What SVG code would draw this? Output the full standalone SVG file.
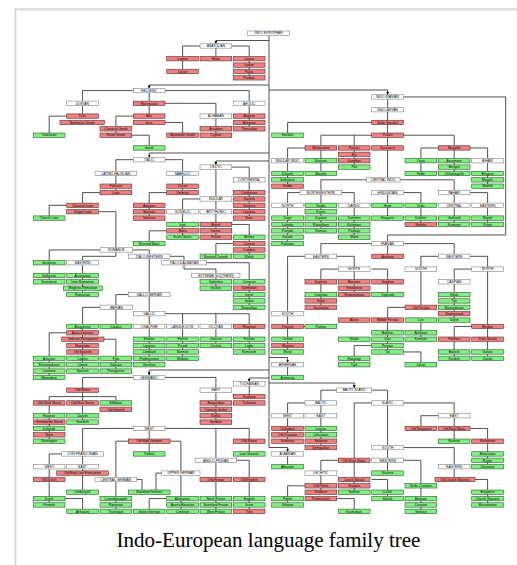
<svg xmlns="http://www.w3.org/2000/svg" width="517" height="565" viewBox="0 0 517 565">
<style>
.n rect{stroke-width:.6}
.r rect{fill:#f08080;stroke:#5a3030}
.g rect{fill:#80f080;stroke:#2e5a2e}
.w rect{fill:#fff;stroke:#808080}
.n text{font-family:"Liberation Sans",Arial,sans-serif;font-size:3.3px;text-anchor:middle;fill:#000}
#connectors path{fill:none;stroke:#333;stroke-width:.85}
#connectors path.a{marker-end:url(#ah)}
.cap{font-family:"Liberation Serif","Times New Roman",serif;font-size:21px;text-anchor:middle;fill:#000}
</style>
<defs>
<marker id="ah" viewBox="0 0 4 4" refX="4" refY="2" markerWidth="3" markerHeight="3" orient="auto" markerUnits="userSpaceOnUse"><path d="M0,0 L4,2 L0,4 z" fill="#000"/></marker>
</defs>
<rect x="15.3" y="9.3" width="520" height="570" fill="#fff" stroke="#d8d8d8" stroke-width="2"/>
<g id="connectors">
<path d="M269 35.4 V447.5"/>
<path class="a" d="M269 40.5 H215.9 V43.75"/>
<path d="M200 46 H182.6 V56.5"/><path d="M231.7 46 H249.2 V56.5"/><path d="M215.9 48.15 V56.5"/><path d="M182.6 60.9 V69.25"/><path d="M249.2 60.9 V75.6"/>
<path class="a" d="M269 85 H149.2 V88.38"/>
<path d="M133.3 90.6 H82.6 V101.13"/><path d="M165 90.6 H249.2 V101.13"/><path d="M149.2 92.8 V101.13"/><path d="M82.6 105.5 V113.88"/><path d="M66.7 116.1 H49.2 V133"/><path d="M149.2 105.5 V113.88"/><path d="M165 103.3 H215.9 V113.88"/><path d="M249.2 105.5 V126.6"/><path d="M133.3 116.1 H115.9 V126.63"/><path d="M165 122.45 H182.6 V133"/><path d="M215.9 118.3 V133"/><path d="M115.9 131 V133"/><path d="M131.7 135.2 H149.2 V145.75"/>
<path class="a" d="M269 153 H149.2 V157.5"/>
<path d="M133.3 159.7 H115.9 V171.25"/><path d="M165 159.7 H182.6 V171.25"/><path d="M115.9 175.65 V190.4"/><path d="M182.6 175.65 V190.4"/><path d="M100 192.6 H82.6 V203.13"/><path d="M66.7 205.3 H49.2 V215.88"/><path d="M98.4 211.7 H115.9 V247.75"/><path d="M166.7 192.6 H149.2 V216"/>
<path class="a" d="M269 161 H215.9 V164.88"/>
<path d="M231.7 167.1 H249.2 V177.63"/><path d="M249.2 182 V216"/><path d="M215.9 169.3 V196.75"/><path d="M200 198.95 H182.6 V209.5"/><path d="M215.9 201.15 V209.5"/><path d="M182.6 213.9 V235"/><path d="M215.9 213.9 V235"/><path d="M231.7 224.45 H249.2 V235"/><path d="M249.2 239.4 V254.13"/><path d="M166.7 230.8 H149.2 V241.38"/><path d="M233.3 243.6 H215.9 V254.13"/>
<path d="M100 249.95 H49.2 V260.5"/><path d="M132.7 249.95 H149.2 V254.13"/><path d="M115.9 252.15 V256.3 H82.6 V260.5"/><path d="M170 256.3 H184 V260.5"/><path d="M149.2 258.5 V292.38"/><path d="M49.2 264.9 V279.63"/><path d="M82.6 264.9 V292.38"/><path d="M184 264.9 V269 H215.9 V273.25"/><path d="M206.7 262.7 H249.2 V305.13"/><path d="M215.9 277.65 V286"/><path d="M128.3 294.6 H115.9 V305.13"/><path d="M149.2 296.8 V311.5"/><path d="M100 307.35 H82.6 V324.25"/><path d="M115.9 309.5 V324.25"/><path d="M149.2 315.9 V362.5"/><path d="M165 313.7 H249.2 V324.25"/><path d="M182.6 313.7 V324.25"/><path d="M215.9 313.7 V324.25"/><path d="M82.6 328.65 V349.75"/><path d="M182.6 328.65 V356.13"/><path d="M215.9 328.65 V343.38"/><path d="M249.2 328.65 V349.75"/><path d="M66.7 332.8 H49.2 V375.25"/><path d="M104 339.2 H115.9 V368.88"/><path d="M82.6 354.15 V368.88"/>
<path class="a" d="M269 370 H149.2 V375.25"/>
<path d="M133.3 377.45 H82.6 V388"/><path d="M165 377.45 H215.9 V388"/><path d="M149.2 379.65 V426.25"/><path d="M82.6 392.4 V400.75"/><path d="M49.2 400.75 V396.6 H115.9 V400.75"/><path d="M215.9 392.4 V419.9"/><path d="M49.2 405.15 V439"/><path d="M82.6 405.15 V419.9"/><path d="M133.3 428.45 H82.6 V451.75"/><path d="M165 428.45 H249.2 V439"/><path d="M215.9 428.45 V458.13"/><path d="M149.2 430.65 V451.75"/><path d="M128.3 441.2 H115.9 V477.25"/><path d="M170 441.2 H180.9 V470.88"/><path d="M249.2 443.4 V451.75"/><path d="M61.7 453.95 H49.2 V464.5"/><path d="M82.6 456.15 V464.5"/><path d="M49.2 468.9 V477.25"/><path d="M82.6 468.9 V490"/><path d="M49.2 481.65 V502.75"/><path d="M65 498.6 H82.6 V509.13"/><path d="M115.9 481.65 V509.13"/><path d="M136.7 479.45 H142 V490"/><path d="M161.7 473.1 H156 V490"/><path d="M180.9 475.3 V509.13"/><path d="M166.7 498.6 H149.2 V509.13"/><path d="M215.9 462.5 V477.25"/><path d="M236.7 460.3 H249.2 V477.25"/><path d="M215.9 481.65 V509.13"/><path d="M249.2 481.65 V509.13"/>
<path class="a" d="M269 378 H249.2 V381.63"/><path d="M249.2 386 V398.8"/>
<path class="a" d="M269 357.5 H287.6 V362.5"/><path d="M287.6 366.9 V375.25"/>
<path class="a" d="M269 447.5 H287.6 V451.75"/><path d="M287.6 456.15 V464.5"/>
<path class="a" d="M269 383 H354.2 V388"/>
<path d="M338.3 390.2 H320.9 V400.75"/><path d="M371.7 390.2 H387.6 V400.75"/><path d="M305 402.95 H287.6 V413.5"/><path d="M320.9 405.15 V413.5"/><path d="M287.6 417.9 V439"/><path d="M320.9 417.9 V445.4"/><path d="M403.3 402.95 H454.2 V413.5"/><path d="M371.7 402.95 H354.2 V458.13"/><path d="M387.6 405.15 V445.38"/><path d="M438.3 415.7 H420.9 V426.25"/><path d="M454.2 417.9 V439"/><path d="M470 428.45 H487.6 V439"/><path d="M487.6 443.4 V464.5"/><path d="M403.3 447.6 H454.2 V464.5"/><path d="M387.6 449.8 V470.88"/><path d="M403.3 460.3 H420.9 V483.63"/><path d="M454.2 468.9 V477.25"/><path d="M475 479.45 H487.6 V502.75"/><path d="M420.9 488 V509.13"/><path d="M338.3 460.3 H320.9 V470.88"/><path d="M354.2 462.5 V490"/><path d="M371.7 479.45 H387.6 V496.38"/><path d="M320.9 475.3 V490"/><path d="M305 485.8 H287.6 V502.75"/><path d="M336.7 498.6 H354.2 V509.13"/>
<path class="a" d="M269 90 H387.6 V94.75"/>
<path d="M387.6 99.15 V177.63"/><path d="M403.3 96.95 H505.7 V235 H387.6 V241.38"/><path d="M371.7 122.45 H287.6 V133"/><path d="M320.9 135.2 H454.2"/><path d="M320.9 135.2 V145.75"/><path d="M354.2 135.2 V145.75"/><path d="M454.2 135.2 V145.75"/><path d="M320.9 150.15 V171.25"/><path d="M354.2 150.15 V164.88"/><path d="M287.6 158.5 V148 H305"/><path d="M287.6 162.9 V184"/><path d="M438.3 147.95 H420.9 V158.5"/><path d="M470 147.95 H487.6 V158.5"/><path d="M454.2 150.15 V171.25"/><path d="M420.9 162.9 V171.25"/><path d="M487.6 162.9 V184"/><path d="M366.7 179.8 H320.9 V190.38"/><path d="M400 179.8 H454.2 V190.38"/><path d="M300 192.6 H287.6 V203.13"/><path d="M341.7 192.6 H354.2 V203.13"/><path d="M320.9 194.8 V228.63"/><path d="M403.3 192.6 H420.9 V203.13"/><path d="M470 192.6 H487.6 V203.13"/><path d="M387.6 194.8 V215.88"/><path d="M454.2 194.8 V222.25"/><path d="M287.6 207.5 V241.38"/><path d="M354.2 207.5 V235"/><path d="M420.9 207.5 V222.25"/><path d="M487.6 207.5 V222.25"/>
<path d="M371.7 243.6 H320.9 V254.13"/><path d="M387.6 245.8 V254.13"/><path d="M403.3 243.6 H454.2 V254.13"/><path d="M305 256.3 H287.6 V311.5"/><path d="M336.7 256.3 H354.2 V266.88"/><path d="M438.3 256.3 H420.9 V266.88"/><path d="M470 256.3 H487.6 V266.88"/><path d="M338.3 269.1 H320.9 V279.63"/><path d="M354.2 271.3 V292.38"/><path d="M371.7 269.1 H387.6 V279.63"/><path d="M320.9 284 V305.13"/><path d="M387.6 284 V292.38"/><path d="M471.7 269.1 H454.2 V279.63"/><path d="M487.6 271.3 V324.25"/><path d="M454.2 284 V317.88"/><path d="M420.9 271.3 V305.13"/><path d="M405 307.35 H387.6 V317.88"/><path d="M387.6 322.3 V349.75"/><path d="M420.9 322.3 V337"/><path d="M471.7 326.45 H454.2 V337"/><path d="M487.6 328.65 V356.13"/><path d="M454.2 341.4 V356.13"/><path d="M403.3 351.95 H420.9 V362.5"/><path d="M371.7 345.6 H354.2 V362.5"/><path d="M287.6 315.9 V349.75"/><path d="M303.3 326.45 H305"/>
</g>
<g id="n_ie" class="n w" transform="translate(247.7 31)"><rect width="41.6" height="4.4"/><text x="20.8" y="3.4">INDO-EUROPEAN</text></g>
<g id="n_anatolian" class="n w" transform="translate(200 43.75)"><rect width="31.7" height="4.4"/><text x="15.85" y="3.4">ANATOLIAN</text></g>
<g id="n_luwian" class="n r" transform="translate(166.7 56.5)"><rect width="31.7" height="4.4"/><text x="15.85" y="3.4">Luwian</text></g>
<g id="n_hittite" class="n r" transform="translate(200 56.5)"><rect width="31.7" height="4.4"/><text x="15.85" y="3.4">Hittite</text></g>
<g id="n_carian" class="n r" transform="translate(233.3 56.5)"><rect width="31.7" height="4.4"/><text x="15.85" y="3.4">Carian</text></g>
<g id="n_lydian" class="n r" transform="translate(233.3 62.88)"><rect width="31.7" height="4.4"/><text x="15.85" y="3.4">Lydian</text></g>
<g id="n_lycian" class="n r" transform="translate(166.7 69.25)"><rect width="31.7" height="4.4"/><text x="15.85" y="3.4">Lycian</text></g>
<g id="n_palaic" class="n r" transform="translate(233.3 69.25)"><rect width="31.7" height="4.4"/><text x="15.85" y="3.4">Palaic</text></g>
<g id="n_pisidian" class="n r" transform="translate(233.3 75.63)"><rect width="31.7" height="4.4"/><text x="15.85" y="3.4">Pisidian</text></g>
<g id="n_hellenic" class="n w" transform="translate(133.3 88.38)"><rect width="31.7" height="4.4"/><text x="15.85" y="3.4">HELLENIC</text></g>
<g id="n_dorian" class="n w" transform="translate(66.7 101.13)"><rect width="31.7" height="4.4"/><text x="15.85" y="3.4">DORIAN</text></g>
<g id="n_mycenaean" class="n r" transform="translate(133.3 101.13)"><rect width="31.7" height="4.4"/><text x="15.85" y="3.4">Mycenaean</text></g>
<g id="n_aeolic" class="n w" transform="translate(233.3 101.13)"><rect width="31.7" height="4.4"/><text x="15.85" y="3.4">AEOLIC</text></g>
<g id="n_doric" class="n r" transform="translate(66.7 113.88)"><rect width="31.7" height="4.4"/><text x="15.85" y="3.4">Doric</text></g>
<g id="n_attic" class="n r" transform="translate(133.3 113.88)"><rect width="31.7" height="4.4"/><text x="15.85" y="3.4">Attic</text></g>
<g id="n_achaean" class="n w" transform="translate(200 113.88)"><rect width="31.7" height="4.4"/><text x="15.85" y="3.4">ACHAEAN</text></g>
<g id="n_aegean" class="n r" transform="translate(233.3 113.88)"><rect width="31.7" height="4.4"/><text x="15.85" y="3.4">Aegean</text></g>
<g id="n_nwgreek" class="n r" transform="translate(60 120.25)"><rect width="44.3" height="4.4"/><text x="22.15" y="3.4">Northwest Greek</text></g>
<g id="n_ionic" class="n r" transform="translate(133.3 120.25)"><rect width="31.7" height="4.4"/><text x="15.85" y="3.4">Ionic</text></g>
<g id="n_boeotian" class="n r" transform="translate(233.3 120.25)"><rect width="31.7" height="4.4"/><text x="15.85" y="3.4">Boeotian</text></g>
<g id="n_classicalgreek" class="n r" transform="translate(100 126.63)"><rect width="31.7" height="4.4"/><text x="15.85" y="3.4">Classical Greek</text></g>
<g id="n_arcadian" class="n r" transform="translate(200 126.63)"><rect width="31.7" height="4.4"/><text x="15.85" y="3.4">Arcadian</text></g>
<g id="n_thessalian" class="n r" transform="translate(233.3 126.63)"><rect width="31.7" height="4.4"/><text x="15.85" y="3.4">Thessalian</text></g>
<g id="n_tsakonian" class="n g" transform="translate(33.3 133)"><rect width="31.7" height="4.4"/><text x="15.85" y="3.4">Tsakonian</text></g>
<g id="n_koine" class="n r" transform="translate(100 133)"><rect width="31.7" height="4.4"/><text x="15.85" y="3.4">Koine Greek</text></g>
<g id="n_byzgreek" class="n r" transform="translate(166.7 133)"><rect width="31.7" height="4.4"/><text x="15.85" y="3.4">Byzantine Greek</text></g>
<g id="n_cypriot" class="n r" transform="translate(200 133)"><rect width="31.7" height="4.4"/><text x="15.85" y="3.4">Cypriot</text></g>
<g id="n_greek" class="n g" transform="translate(133.3 145.75)"><rect width="31.7" height="4.4"/><text x="15.85" y="3.4">Greek</text></g>
<g id="n_italic" class="n w" transform="translate(133.3 157.5)"><rect width="31.7" height="4.4"/><text x="15.85" y="3.4">ITALIC</text></g>
<g id="n_celtic" class="n w" transform="translate(200 164.88)"><rect width="31.7" height="4.4"/><text x="15.85" y="3.4">CELTIC</text></g>
<g id="n_latinofaliscan" class="n w" transform="translate(95 171.25)"><rect width="41.7" height="4.4"/><text x="20.85" y="3.4">LATINO-FALISCAN</text></g>
<g id="n_sabellic" class="n w" transform="translate(166.7 171.25)"><rect width="31.7" height="4.4"/><text x="15.85" y="3.4">SABELLIC</text></g>
<g id="n_continental" class="n w" transform="translate(233.3 177.63)"><rect width="31.7" height="4.4"/><text x="15.85" y="3.4">CONTINENTAL</text></g>
<g id="n_faliscan" class="n r" transform="translate(100 184)"><rect width="31.7" height="4.4"/><text x="15.85" y="3.4">Faliscan</text></g>
<g id="n_oscan" class="n r" transform="translate(166.7 184)"><rect width="31.7" height="4.4"/><text x="15.85" y="3.4">Oscan</text></g>
<g id="n_latin" class="n r" transform="translate(100 190.38)"><rect width="31.7" height="4.4"/><text x="15.85" y="3.4">Latin</text></g>
<g id="n_umbrian" class="n r" transform="translate(166.7 190.38)"><rect width="31.7" height="4.4"/><text x="15.85" y="3.4">Umbrian</text></g>
<g id="n_celtiberian" class="n r" transform="translate(233.3 190.38)"><rect width="31.7" height="4.4"/><text x="15.85" y="3.4">Celtiberian</text></g>
<g id="n_insular" class="n w" transform="translate(200 196.75)"><rect width="31.7" height="4.4"/><text x="15.85" y="3.4">INSULAR</text></g>
<g id="n_gaulish" class="n r" transform="translate(233.3 196.75)"><rect width="31.7" height="4.4"/><text x="15.85" y="3.4">Gaulish</text></g>
<g id="n_classicallatin" class="n r" transform="translate(66.7 203.13)"><rect width="31.7" height="4.4"/><text x="15.85" y="3.4">Classical Latin</text></g>
<g id="n_aequian" class="n r" transform="translate(133.3 203.13)"><rect width="31.7" height="4.4"/><text x="15.85" y="3.4">Aequian</text></g>
<g id="n_galatian" class="n r" transform="translate(233.3 203.13)"><rect width="31.7" height="4.4"/><text x="15.85" y="3.4">Galatian</text></g>
<g id="n_vulgarlatin" class="n r" transform="translate(66.7 209.5)"><rect width="31.7" height="4.4"/><text x="15.85" y="3.4">Vulgar Latin</text></g>
<g id="n_marsian" class="n r" transform="translate(133.3 209.5)"><rect width="31.7" height="4.4"/><text x="15.85" y="3.4">Marsian</text></g>
<g id="n_goidelic" class="n w" transform="translate(166.7 209.5)"><rect width="31.7" height="4.4"/><text x="15.85" y="3.4">GOIDELIC</text></g>
<g id="n_brythonic" class="n w" transform="translate(200 209.5)"><rect width="31.7" height="4.4"/><text x="15.85" y="3.4">BRYTHONIC</text></g>
<g id="n_lepontic" class="n r" transform="translate(233.3 209.5)"><rect width="31.7" height="4.4"/><text x="15.85" y="3.4">Lepontic</text></g>
<g id="n_churchlatin" class="n g" transform="translate(33.3 215.88)"><rect width="31.7" height="4.4"/><text x="15.85" y="3.4">Church Latin</text></g>
<g id="n_volscian" class="n r" transform="translate(133.3 215.88)"><rect width="31.7" height="4.4"/><text x="15.85" y="3.4">Volscian</text></g>
<g id="n_noric" class="n r" transform="translate(233.3 215.88)"><rect width="31.7" height="4.4"/><text x="15.85" y="3.4">Noric</text></g>
<g id="n_irish" class="n g" transform="translate(166.7 222.25)"><rect width="31.7" height="4.4"/><text x="15.85" y="3.4">Irish</text></g>
<g id="n_british" class="n r" transform="translate(200 222.25)"><rect width="31.7" height="4.4"/><text x="15.85" y="3.4">British</text></g>
<g id="n_manx" class="n r" transform="translate(166.7 228.63)"><rect width="31.7" height="4.4"/><text x="15.85" y="3.4">Manx</text></g>
<g id="n_ivernic" class="n r" transform="translate(200 228.63)"><rect width="31.7" height="4.4"/><text x="15.85" y="3.4">Ivernic</text></g>
<g id="n_scotsgaelic" class="n g" transform="translate(166.7 235)"><rect width="31.7" height="4.4"/><text x="15.85" y="3.4">Scots Gaelic</text></g>
<g id="n_pictish" class="n r" transform="translate(200 235)"><rect width="31.7" height="4.4"/><text x="15.85" y="3.4">Pictish</text></g>
<g id="n_breton" class="n g" transform="translate(233.3 235)"><rect width="31.7" height="4.4"/><text x="15.85" y="3.4">Breton</text></g>
<g id="n_revivedmanx" class="n g" transform="translate(133.3 241.38)"><rect width="31.7" height="4.4"/><text x="15.85" y="3.4">Revived Manx</text></g>
<g id="n_cornish" class="n r" transform="translate(233.3 241.38)"><rect width="31.7" height="4.4"/><text x="15.85" y="3.4">Cornish</text></g>
<g id="n_romance" class="n w" transform="translate(100 247.75)"><rect width="32.7" height="4.4"/><text x="16.35" y="3.4">ROMANCE</text></g>
<g id="n_cumbric" class="n r" transform="translate(233.3 247.75)"><rect width="31.7" height="4.4"/><text x="15.85" y="3.4">Cumbric</text></g>
<g id="n_italowestern" class="n w" transform="translate(128.3 254.13)"><rect width="41.7" height="4.4"/><text x="20.85" y="3.4">ITALO-WESTERN</text></g>
<g id="n_revivedcornish" class="n g" transform="translate(200 254.13)"><rect width="31.7" height="4.4"/><text x="15.85" y="3.4">Revived Cornish</text></g>
<g id="n_welsh" class="n g" transform="translate(233.3 254.13)"><rect width="31.7" height="4.4"/><text x="15.85" y="3.4">Welsh</text></g>
<g id="n_sardinian" class="n g" transform="translate(33.3 260.5)"><rect width="31.7" height="4.4"/><text x="15.85" y="3.4">Sardinian</text></g>
<g id="n_easternrom" class="n w" transform="translate(66.7 260.5)"><rect width="31.7" height="4.4"/><text x="15.85" y="3.4">EASTERN</text></g>
<g id="n_italodalmatian" class="n w" transform="translate(161.7 260.5)"><rect width="45" height="4.4"/><text x="22.5" y="3.4">ITALO-DALMATIAN</text></g>
<g id="n_gallurese" class="n g" transform="translate(33.3 273.25)"><rect width="31.7" height="4.4"/><text x="15.85" y="3.4">Gallurese</text></g>
<g id="n_aromanian" class="n g" transform="translate(66.7 273.25)"><rect width="31.7" height="4.4"/><text x="15.85" y="3.4">Aromanian</text></g>
<g id="n_extremesouthern" class="n w" transform="translate(191.7 273.25)"><rect width="48.3" height="4.4"/><text x="24.15" y="3.4">EXTREME SOUTHERN</text></g>
<g id="n_sassarese" class="n g" transform="translate(33.3 279.63)"><rect width="31.7" height="4.4"/><text x="15.85" y="3.4">Sassarese</text></g>
<g id="n_istroromanian" class="n g" transform="translate(66.7 279.63)"><rect width="31.7" height="4.4"/><text x="15.85" y="3.4">Istro-Romanian</text></g>
<g id="n_salentino" class="n g" transform="translate(200 279.63)"><rect width="31.7" height="4.4"/><text x="15.85" y="3.4">Salentino</text></g>
<g id="n_corsican" class="n g" transform="translate(233.3 279.63)"><rect width="31.7" height="4.4"/><text x="15.85" y="3.4">Corsican</text></g>
<g id="n_meglenoromanian" class="n g" transform="translate(63.3 286)"><rect width="39" height="4.4"/><text x="19.5" y="3.4">Megleno-Romanian</text></g>
<g id="n_sicilian" class="n g" transform="translate(200 286)"><rect width="31.7" height="4.4"/><text x="15.85" y="3.4">Sicilian</text></g>
<g id="n_dalmatian" class="n r" transform="translate(233.3 286)"><rect width="31.7" height="4.4"/><text x="15.85" y="3.4">Dalmatian</text></g>
<g id="n_romanian" class="n g" transform="translate(66.7 292.38)"><rect width="31.7" height="4.4"/><text x="15.85" y="3.4">Romanian</text></g>
<g id="n_galloiberian" class="n w" transform="translate(128.3 292.38)"><rect width="41.7" height="4.4"/><text x="20.85" y="3.4">GALLO-IBERIAN</text></g>
<g id="n_istriot" class="n g" transform="translate(233.3 292.38)"><rect width="31.7" height="4.4"/><text x="15.85" y="3.4">Istriot</text></g>
<g id="n_italian" class="n g" transform="translate(233.3 298.75)"><rect width="31.7" height="4.4"/><text x="15.85" y="3.4">Italian</text></g>
<g id="n_iberian" class="n w" transform="translate(100 305.13)"><rect width="32.7" height="4.4"/><text x="16.35" y="3.4">IBERIAN</text></g>
<g id="n_neapolitan" class="n g" transform="translate(233.3 305.13)"><rect width="31.7" height="4.4"/><text x="15.85" y="3.4">Neapolitan</text></g>
<g id="n_gallic" class="n w" transform="translate(133.3 311.5)"><rect width="31.7" height="4.4"/><text x="15.85" y="3.4">GALLIC</text></g>
<g id="n_aragonese" class="n g" transform="translate(66.7 324.25)"><rect width="31.7" height="4.4"/><text x="15.85" y="3.4">Aragonese</text></g>
<g id="n_catalan" class="n g" transform="translate(100 324.25)"><rect width="31.7" height="4.4"/><text x="15.85" y="3.4">Catalan</text></g>
<g id="n_cisalpine" class="n w" transform="translate(133.3 324.25)"><rect width="31.7" height="4.4"/><text x="15.85" y="3.4">CISALPINE</text></g>
<g id="n_languedoil" class="n w" transform="translate(166.7 324.25)"><rect width="31.7" height="4.4"/><text x="15.85" y="3.4">LANGUE D'OÏL</text></g>
<g id="n_occitangrp" class="n w" transform="translate(200 324.25)"><rect width="31.7" height="4.4"/><text x="15.85" y="3.4">OCCITAN</text></g>
<g id="n_rhaetian" class="n r" transform="translate(233.3 324.25)"><rect width="31.7" height="4.4"/><text x="15.85" y="3.4">Rhaetian</text></g>
<g id="n_asturleonese" class="n r" transform="translate(66.7 330.63)"><rect width="31.7" height="4.4"/><text x="15.85" y="3.4">Astur-Leonese</text></g>
<g id="n_galicianportuguese" class="n r" transform="translate(61.7 337)"><rect width="42.3" height="4.4"/><text x="21.15" y="3.4">Galician-Portuguese</text></g>
<g id="n_emilian" class="n g" transform="translate(133.3 337)"><rect width="31.7" height="4.4"/><text x="15.85" y="3.4">Emilian</text></g>
<g id="n_french" class="n g" transform="translate(166.7 337)"><rect width="31.7" height="4.4"/><text x="15.85" y="3.4">French</text></g>
<g id="n_gascon" class="n g" transform="translate(200 337)"><rect width="31.7" height="4.4"/><text x="15.85" y="3.4">Gascon</text></g>
<g id="n_friulian" class="n g" transform="translate(233.3 337)"><rect width="31.7" height="4.4"/><text x="15.85" y="3.4">Friulian</text></g>
<g id="n_mozarabic" class="n r" transform="translate(66.7 343.38)"><rect width="31.7" height="4.4"/><text x="15.85" y="3.4">Mozarabic</text></g>
<g id="n_ligurian" class="n g" transform="translate(133.3 343.38)"><rect width="31.7" height="4.4"/><text x="15.85" y="3.4">Ligurian</text></g>
<g id="n_picard" class="n g" transform="translate(166.7 343.38)"><rect width="31.7" height="4.4"/><text x="15.85" y="3.4">Picard</text></g>
<g id="n_occitan" class="n g" transform="translate(200 343.38)"><rect width="31.7" height="4.4"/><text x="15.85" y="3.4">Occitan</text></g>
<g id="n_ladin" class="n g" transform="translate(233.3 343.38)"><rect width="31.7" height="4.4"/><text x="15.85" y="3.4">Ladin</text></g>
<g id="n_oldspanish" class="n r" transform="translate(66.7 349.75)"><rect width="31.7" height="4.4"/><text x="15.85" y="3.4">Old Spanish</text></g>
<g id="n_lombard" class="n g" transform="translate(133.3 349.75)"><rect width="31.7" height="4.4"/><text x="15.85" y="3.4">Lombard</text></g>
<g id="n_norman" class="n g" transform="translate(166.7 349.75)"><rect width="31.7" height="4.4"/><text x="15.85" y="3.4">Norman</text></g>
<g id="n_romansh" class="n g" transform="translate(233.3 349.75)"><rect width="31.7" height="4.4"/><text x="15.85" y="3.4">Romansh</text></g>
<g id="n_asturian" class="n g" transform="translate(33.3 356.13)"><rect width="31.7" height="4.4"/><text x="15.85" y="3.4">Asturian</text></g>
<g id="n_ladino" class="n g" transform="translate(66.7 356.13)"><rect width="31.7" height="4.4"/><text x="15.85" y="3.4">Ladino</text></g>
<g id="n_fala" class="n g" transform="translate(100 356.13)"><rect width="31.7" height="4.4"/><text x="15.85" y="3.4">Fala</text></g>
<g id="n_piedmontese" class="n g" transform="translate(133.3 356.13)"><rect width="31.7" height="4.4"/><text x="15.85" y="3.4">Piedmontese</text></g>
<g id="n_walloon" class="n g" transform="translate(166.7 356.13)"><rect width="31.7" height="4.4"/><text x="15.85" y="3.4">Walloon</text></g>
<g id="n_extremaduran" class="n g" transform="translate(33.3 362.5)"><rect width="31.7" height="4.4"/><text x="15.85" y="3.4">Extremaduran</text></g>
<g id="n_llanito" class="n g" transform="translate(66.7 362.5)"><rect width="31.7" height="4.4"/><text x="15.85" y="3.4">Llanito</text></g>
<g id="n_galician" class="n g" transform="translate(100 362.5)"><rect width="31.7" height="4.4"/><text x="15.85" y="3.4">Galician</text></g>
<g id="n_venetian" class="n g" transform="translate(133.3 362.5)"><rect width="31.7" height="4.4"/><text x="15.85" y="3.4">Venetian</text></g>
<g id="n_leonese" class="n g" transform="translate(33.3 368.88)"><rect width="31.7" height="4.4"/><text x="15.85" y="3.4">Leonese</text></g>
<g id="n_spanish" class="n g" transform="translate(66.7 368.88)"><rect width="31.7" height="4.4"/><text x="15.85" y="3.4">Spanish</text></g>
<g id="n_portuguese" class="n g" transform="translate(100 368.88)"><rect width="31.7" height="4.4"/><text x="15.85" y="3.4">Portuguese</text></g>
<g id="n_mirandese" class="n g" transform="translate(33.3 375.25)"><rect width="31.7" height="4.4"/><text x="15.85" y="3.4">Mirandese</text></g>
<g id="n_germanic" class="n w" transform="translate(133.3 375.25)"><rect width="31.7" height="4.4"/><text x="15.85" y="3.4">GERMANIC</text></g>
<g id="n_tocharian" class="n w" transform="translate(233.3 381.63)"><rect width="31.7" height="4.4"/><text x="15.85" y="3.4">TOCHARIAN</text></g>
<g id="n_oldnorse" class="n r" transform="translate(66.7 388)"><rect width="31.7" height="4.4"/><text x="15.85" y="3.4">Old Norse</text></g>
<g id="n_eastgerm" class="n w" transform="translate(200 388)"><rect width="31.7" height="4.4"/><text x="15.85" y="3.4">EAST</text></g>
<g id="n_kuchean" class="n r" transform="translate(233.3 394.38)"><rect width="31.7" height="4.4"/><text x="15.85" y="3.4">Kuchean</text></g>
<g id="n_oldwestnorse" class="n r" transform="translate(33.3 400.75)"><rect width="31.7" height="4.4"/><text x="15.85" y="3.4">Old West Norse</text></g>
<g id="n_oldeastnorse" class="n r" transform="translate(66.7 400.75)"><rect width="31.7" height="4.4"/><text x="15.85" y="3.4">Old East Norse</text></g>
<g id="n_elfdalian" class="n g" transform="translate(100 400.75)"><rect width="31.7" height="4.4"/><text x="15.85" y="3.4">Elfdalian</text></g>
<g id="n_burgundian" class="n r" transform="translate(200 400.75)"><rect width="31.7" height="4.4"/><text x="15.85" y="3.4">Burgundian</text></g>
<g id="n_turfanian" class="n r" transform="translate(233.3 400.75)"><rect width="31.7" height="4.4"/><text x="15.85" y="3.4">Turfanian</text></g>
<g id="n_oldgutnish" class="n r" transform="translate(100 407.13)"><rect width="31.7" height="4.4"/><text x="15.85" y="3.4">Old Gutnish</text></g>
<g id="n_crimeangothic" class="n r" transform="translate(200 407.13)"><rect width="31.7" height="4.4"/><text x="15.85" y="3.4">Crimean Gothic</text></g>
<g id="n_faroese" class="n g" transform="translate(33.3 413.5)"><rect width="31.7" height="4.4"/><text x="15.85" y="3.4">Faroese</text></g>
<g id="n_danish" class="n g" transform="translate(66.7 413.5)"><rect width="31.7" height="4.4"/><text x="15.85" y="3.4">Danish</text></g>
<g id="n_gothic" class="n r" transform="translate(200 413.5)"><rect width="31.7" height="4.4"/><text x="15.85" y="3.4">Gothic</text></g>
<g id="n_greenlandic" class="n r" transform="translate(33.3 419.88)"><rect width="31.7" height="4.4"/><text x="15.85" y="3.4">Greenlandic Norse</text></g>
<g id="n_swedish" class="n g" transform="translate(66.7 419.88)"><rect width="31.7" height="4.4"/><text x="15.85" y="3.4">Swedish</text></g>
<g id="n_vandalic" class="n r" transform="translate(200 419.88)"><rect width="31.7" height="4.4"/><text x="15.85" y="3.4">Vandalic</text></g>
<g id="n_icelandic" class="n g" transform="translate(33.3 426.25)"><rect width="31.7" height="4.4"/><text x="15.85" y="3.4">Icelandic</text></g>
<g id="n_westgerm" class="n w" transform="translate(133.3 426.25)"><rect width="31.7" height="4.4"/><text x="15.85" y="3.4">WEST</text></g>
<g id="n_norn" class="n r" transform="translate(33.3 432.63)"><rect width="31.7" height="4.4"/><text x="15.85" y="3.4">Norn</text></g>
<g id="n_norwegian" class="n g" transform="translate(33.3 439)"><rect width="31.7" height="4.4"/><text x="15.85" y="3.4">Norwegian</text></g>
<g id="n_ohg" class="n r" transform="translate(128.3 439)"><rect width="41.7" height="4.4"/><text x="20.85" y="3.4">Old High German</text></g>
<g id="n_oldsaxon" class="n r" transform="translate(233.3 439)"><rect width="31.7" height="4.4"/><text x="15.85" y="3.4">Old Saxon</text></g>
<g id="n_lowfranconian" class="n w" transform="translate(61.7 451.75)"><rect width="41.7" height="4.4"/><text x="20.85" y="3.4">LOW FRANCONIAN</text></g>
<g id="n_yiddish" class="n g" transform="translate(133.3 451.75)"><rect width="31.7" height="4.4"/><text x="15.85" y="3.4">Yiddish</text></g>
<g id="n_lowgerman" class="n g" transform="translate(233.3 451.75)"><rect width="31.7" height="4.4"/><text x="15.85" y="3.4">Low German</text></g>
<g id="n_anglofrisian" class="n w" transform="translate(195 458.13)"><rect width="41.7" height="4.4"/><text x="20.85" y="3.4">ANGLO-FRISIAN</text></g>
<g id="n_westlf" class="n w" transform="translate(33.3 464.5)"><rect width="31.7" height="4.4"/><text x="15.85" y="3.4">WEST</text></g>
<g id="n_eastlf" class="n w" transform="translate(66.7 464.5)"><rect width="31.7" height="4.4"/><text x="15.85" y="3.4">EAST</text></g>
<g id="n_oelf" class="n r" transform="translate(56.7 470.88)"><rect width="51.7" height="4.4"/><text x="25.85" y="3.4">Old East Low Franconian</text></g>
<g id="n_uppergerman" class="n w" transform="translate(161.7 470.88)"><rect width="38.3" height="4.4"/><text x="19.15" y="3.4">UPPER GERMAN</text></g>
<g id="n_olddutch" class="n r" transform="translate(33.3 477.25)"><rect width="31.7" height="4.4"/><text x="15.85" y="3.4">Old Dutch</text></g>
<g id="n_centralgerman" class="n w" transform="translate(95 477.25)"><rect width="41.7" height="4.4"/><text x="20.85" y="3.4">CENTRAL GERMAN</text></g>
<g id="n_oldfrisian" class="n r" transform="translate(200 477.25)"><rect width="31.7" height="4.4"/><text x="15.85" y="3.4">Old Frisian</text></g>
<g id="n_oldenglish" class="n r" transform="translate(233.3 477.25)"><rect width="31.7" height="4.4"/><text x="15.85" y="3.4">Old English</text></g>
<g id="n_limburgish" class="n g" transform="translate(66.7 490)"><rect width="31.7" height="4.4"/><text x="15.85" y="3.4">Limburgish</text></g>
<g id="n_standardgerman" class="n g" transform="translate(128.3 490)"><rect width="41.7" height="4.4"/><text x="20.85" y="3.4">Standard German</text></g>
<g id="n_dutch" class="n g" transform="translate(33.3 496.38)"><rect width="31.7" height="4.4"/><text x="15.85" y="3.4">Dutch</text></g>
<g id="n_luxembourgish" class="n g" transform="translate(100 496.38)"><rect width="31.7" height="4.4"/><text x="15.85" y="3.4">Luxembourgish</text></g>
<g id="n_alemannic" class="n g" transform="translate(166.7 496.38)"><rect width="31.7" height="4.4"/><text x="15.85" y="3.4">Alemannic</text></g>
<g id="n_northfrisian" class="n g" transform="translate(200 496.38)"><rect width="31.7" height="4.4"/><text x="15.85" y="3.4">North Frisian</text></g>
<g id="n_english" class="n g" transform="translate(233.3 496.38)"><rect width="31.7" height="4.4"/><text x="15.85" y="3.4">English</text></g>
<g id="n_flemish" class="n g" transform="translate(33.3 502.75)"><rect width="31.7" height="4.4"/><text x="15.85" y="3.4">Flemish</text></g>
<g id="n_ripuarian" class="n g" transform="translate(100 502.75)"><rect width="31.7" height="4.4"/><text x="15.85" y="3.4">Ripuarian</text></g>
<g id="n_austrobavarian" class="n g" transform="translate(166.7 502.75)"><rect width="31.7" height="4.4"/><text x="15.85" y="3.4">Austro-Bavarian</text></g>
<g id="n_saterland" class="n g" transform="translate(200 502.75)"><rect width="31.7" height="4.4"/><text x="15.85" y="3.4">Saterland Frisian</text></g>
<g id="n_scots" class="n g" transform="translate(233.3 502.75)"><rect width="31.7" height="4.4"/><text x="15.85" y="3.4">Scots</text></g>
<g id="n_afrikaans" class="n g" transform="translate(66.7 509.13)"><rect width="31.7" height="4.4"/><text x="15.85" y="3.4">Afrikaans</text></g>
<g id="n_thuringian" class="n g" transform="translate(100 509.13)"><rect width="31.7" height="4.4"/><text x="15.85" y="3.4">Thuringian</text></g>
<g id="n_swissgerman" class="n g" transform="translate(133.3 509.13)"><rect width="31.7" height="4.4"/><text x="15.85" y="3.4">Swiss German</text></g>
<g id="n_cimbrian" class="n g" transform="translate(166.7 509.13)"><rect width="31.7" height="4.4"/><text x="15.85" y="3.4">Cimbrian</text></g>
<g id="n_westfrisian" class="n g" transform="translate(200 509.13)"><rect width="31.7" height="4.4"/><text x="15.85" y="3.4">West Frisian</text></g>
<g id="n_yola" class="n r" transform="translate(233.3 509.13)"><rect width="31.7" height="4.4"/><text x="15.85" y="3.4">Yola</text></g>
<g id="n_indoiranian" class="n w" transform="translate(371.7 94.75)"><rect width="31.7" height="4.4"/><text x="15.85" y="3.4">INDO-IRANIAN</text></g>
<g id="n_indoaryan" class="n w" transform="translate(371.7 107.5)"><rect width="31.7" height="4.4"/><text x="15.85" y="3.4">INDO-ARYAN</text></g>
<g id="n_vedic" class="n r" transform="translate(371.7 120.25)"><rect width="31.7" height="4.4"/><text x="15.85" y="3.4">Vedic Sanskrit</text></g>
<g id="n_sanskrit" class="n g" transform="translate(271.7 133)"><rect width="31.7" height="4.4"/><text x="15.85" y="3.4">Sanskrit</text></g>
<g id="n_prakrit" class="n r" transform="translate(371.7 133)"><rect width="31.7" height="4.4"/><text x="15.85" y="3.4">Prakrit</text></g>
<g id="n_maharashtri" class="n r" transform="translate(305 145.75)"><rect width="31.7" height="4.4"/><text x="15.85" y="3.4">Maharashtri</text></g>
<g id="n_paisaci" class="n r" transform="translate(338.3 145.75)"><rect width="31.7" height="4.4"/><text x="15.85" y="3.4">Paisaci</text></g>
<g id="n_sauraseni" class="n r" transform="translate(371.7 145.75)"><rect width="31.7" height="4.4"/><text x="15.85" y="3.4">Sauraseni</text></g>
<g id="n_magadhi" class="n r" transform="translate(438.3 145.75)"><rect width="31.7" height="4.4"/><text x="15.85" y="3.4">Magadhi</text></g>
<g id="n_elu" class="n r" transform="translate(338.3 152.13)"><rect width="31.7" height="4.4"/><text x="15.85" y="3.4">Elu</text></g>
<g id="n_insularindic" class="n w" transform="translate(271.7 158.5)"><rect width="31.7" height="4.4"/><text x="15.85" y="3.4">INSULAR INDIC</text></g>
<g id="n_konkani" class="n g" transform="translate(305 158.5)"><rect width="31.7" height="4.4"/><text x="15.85" y="3.4">Konkani</text></g>
<g id="n_gandhari" class="n r" transform="translate(338.3 158.5)"><rect width="31.7" height="4.4"/><text x="15.85" y="3.4">Gandhari</text></g>
<g id="n_oriya" class="n g" transform="translate(405 158.5)"><rect width="31.7" height="4.4"/><text x="15.85" y="3.4">Oriya</text></g>
<g id="n_assamese" class="n g" transform="translate(438.3 158.5)"><rect width="31.7" height="4.4"/><text x="15.85" y="3.4">Assamese</text></g>
<g id="n_bihari" class="n w" transform="translate(471.7 158.5)"><rect width="31.7" height="4.4"/><text x="15.85" y="3.4">BIHARI</text></g>
<g id="n_pali" class="n g" transform="translate(338.3 164.88)"><rect width="31.7" height="4.4"/><text x="15.85" y="3.4">Pali</text></g>
<g id="n_bengali" class="n g" transform="translate(438.3 164.88)"><rect width="31.7" height="4.4"/><text x="15.85" y="3.4">Bengali</text></g>
<g id="n_dhivehi" class="n g" transform="translate(271.7 171.25)"><rect width="31.7" height="4.4"/><text x="15.85" y="3.4">Dhivehi</text></g>
<g id="n_marathi" class="n g" transform="translate(305 171.25)"><rect width="31.7" height="4.4"/><text x="15.85" y="3.4">Marathi</text></g>
<g id="n_halbi" class="n g" transform="translate(405 171.25)"><rect width="31.7" height="4.4"/><text x="15.85" y="3.4">Halbi</text></g>
<g id="n_chhattisgarhi" class="n g" transform="translate(438.3 171.25)"><rect width="31.7" height="4.4"/><text x="15.85" y="3.4">Chhattisgarhi</text></g>
<g id="n_bhojpuri" class="n g" transform="translate(471.7 171.25)"><rect width="31.7" height="4.4"/><text x="15.85" y="3.4">Bhojpuri</text></g>
<g id="n_sinhalese" class="n g" transform="translate(271.7 177.63)"><rect width="31.7" height="4.4"/><text x="15.85" y="3.4">Sinhalese</text></g>
<g id="n_centralindic" class="n w" transform="translate(366.7 177.63)"><rect width="33.3" height="4.4"/><text x="16.65" y="3.4">CENTRAL INDIC</text></g>
<g id="n_magahi" class="n g" transform="translate(471.7 177.63)"><rect width="31.7" height="4.4"/><text x="15.85" y="3.4">Magahi</text></g>
<g id="n_vedda" class="n r" transform="translate(271.7 184)"><rect width="31.7" height="4.4"/><text x="15.85" y="3.4">Vedda</text></g>
<g id="n_maithili" class="n g" transform="translate(471.7 184)"><rect width="31.7" height="4.4"/><text x="15.85" y="3.4">Maithili</text></g>
<g id="n_northwestern" class="n w" transform="translate(300 190.38)"><rect width="41.7" height="4.4"/><text x="20.85" y="3.4">NORTHWESTERN</text></g>
<g id="n_hindustani" class="n w" transform="translate(371.7 190.38)"><rect width="31.7" height="4.4"/><text x="15.85" y="3.4">HINDUSTANI</text></g>
<g id="n_pahari" class="n w" transform="translate(438.3 190.38)"><rect width="31.7" height="4.4"/><text x="15.85" y="3.4">PAHARI</text></g>
<g id="n_northia" class="n w" transform="translate(271.7 203.13)"><rect width="31.7" height="4.4"/><text x="15.85" y="3.4">NORTH</text></g>
<g id="n_sindhi" class="n g" transform="translate(305 203.13)"><rect width="31.7" height="4.4"/><text x="15.85" y="3.4">Sindhi</text></g>
<g id="n_dardic" class="n w" transform="translate(338.3 203.13)"><rect width="31.7" height="4.4"/><text x="15.85" y="3.4">DARDIC</text></g>
<g id="n_hindi" class="n g" transform="translate(371.7 203.13)"><rect width="31.7" height="4.4"/><text x="15.85" y="3.4">Hindi</text></g>
<g id="n_urdu" class="n g" transform="translate(405 203.13)"><rect width="31.7" height="4.4"/><text x="15.85" y="3.4">Urdu</text></g>
<g id="n_centralpah" class="n w" transform="translate(438.3 203.13)"><rect width="31.7" height="4.4"/><text x="15.85" y="3.4">CENTRAL</text></g>
<g id="n_easternpah" class="n w" transform="translate(471.7 203.13)"><rect width="31.7" height="4.4"/><text x="15.85" y="3.4">EASTERN</text></g>
<g id="n_kutchi" class="n g" transform="translate(305 209.5)"><rect width="31.7" height="4.4"/><text x="15.85" y="3.4">Kutchi</text></g>
<g id="n_dogri" class="n g" transform="translate(271.7 215.88)"><rect width="31.7" height="4.4"/><text x="15.85" y="3.4">Dogri</text></g>
<g id="n_gujarati" class="n g" transform="translate(305 215.88)"><rect width="31.7" height="4.4"/><text x="15.85" y="3.4">Gujarati</text></g>
<g id="n_kashmiri" class="n g" transform="translate(338.3 215.88)"><rect width="31.7" height="4.4"/><text x="15.85" y="3.4">Kashmiri</text></g>
<g id="n_haryanvi" class="n g" transform="translate(371.7 215.88)"><rect width="31.7" height="4.4"/><text x="15.85" y="3.4">Haryanvi</text></g>
<g id="n_dakhini" class="n g" transform="translate(405 215.88)"><rect width="31.7" height="4.4"/><text x="15.85" y="3.4">Dakhini</text></g>
<g id="n_garhwali" class="n g" transform="translate(438.3 215.88)"><rect width="31.7" height="4.4"/><text x="15.85" y="3.4">Garhwali</text></g>
<g id="n_nepali" class="n g" transform="translate(471.7 215.88)"><rect width="31.7" height="4.4"/><text x="15.85" y="3.4">Nepali</text></g>
<g id="n_lahnda" class="n g" transform="translate(271.7 222.25)"><rect width="31.7" height="4.4"/><text x="15.85" y="3.4">Lahnda</text></g>
<g id="n_rajasthani" class="n g" transform="translate(305 222.25)"><rect width="31.7" height="4.4"/><text x="15.85" y="3.4">Rajasthani</text></g>
<g id="n_kohistani" class="n g" transform="translate(338.3 222.25)"><rect width="31.7" height="4.4"/><text x="15.85" y="3.4">Kohistani</text></g>
<g id="n_rekhta" class="n r" transform="translate(405 222.25)"><rect width="31.7" height="4.4"/><text x="15.85" y="3.4">Rekhta</text></g>
<g id="n_kumaoni" class="n g" transform="translate(438.3 222.25)"><rect width="31.7" height="4.4"/><text x="15.85" y="3.4">Kumaoni</text></g>
<g id="n_palpa" class="n g" transform="translate(471.7 222.25)"><rect width="31.7" height="4.4"/><text x="15.85" y="3.4">Palpa</text></g>
<g id="n_punjabi" class="n g" transform="translate(271.7 228.63)"><rect width="31.7" height="4.4"/><text x="15.85" y="3.4">Punjabi</text></g>
<g id="n_romani" class="n g" transform="translate(305 228.63)"><rect width="31.7" height="4.4"/><text x="15.85" y="3.4">Romani</text></g>
<g id="n_pashayi" class="n g" transform="translate(338.3 228.63)"><rect width="31.7" height="4.4"/><text x="15.85" y="3.4">Pashayi</text></g>
<g id="n_saraiki" class="n g" transform="translate(271.7 235)"><rect width="31.7" height="4.4"/><text x="15.85" y="3.4">Saraiki</text></g>
<g id="n_shina" class="n g" transform="translate(338.3 235)"><rect width="31.7" height="4.4"/><text x="15.85" y="3.4">Shina</text></g>
<g id="n_pothwari" class="n g" transform="translate(271.7 241.38)"><rect width="31.7" height="4.4"/><text x="15.85" y="3.4">Pothwari</text></g>
<g id="n_iranian" class="n w" transform="translate(371.7 241.38)"><rect width="31.7" height="4.4"/><text x="15.85" y="3.4">IRANIAN</text></g>
<g id="n_easternir" class="n w" transform="translate(305 254.13)"><rect width="31.7" height="4.4"/><text x="15.85" y="3.4">EASTERN</text></g>
<g id="n_avestan" class="n r" transform="translate(371.7 254.13)"><rect width="31.7" height="4.4"/><text x="15.85" y="3.4">Avestan</text></g>
<g id="n_westernir" class="n w" transform="translate(438.3 254.13)"><rect width="31.7" height="4.4"/><text x="15.85" y="3.4">WESTERN</text></g>
<g id="n_northeir" class="n w" transform="translate(338.3 266.88)"><rect width="31.7" height="4.4"/><text x="15.85" y="3.4">NORTH</text></g>
<g id="n_southwir" class="n w" transform="translate(405 266.88)"><rect width="31.7" height="4.4"/><text x="15.85" y="3.4">SOUTH</text></g>
<g id="n_northwir" class="n w" transform="translate(471.7 266.88)"><rect width="31.7" height="4.4"/><text x="15.85" y="3.4">NORTH</text></g>
<g id="n_scythian" class="n r" transform="translate(305 279.63)"><rect width="31.7" height="4.4"/><text x="15.85" y="3.4">Scythian</text></g>
<g id="n_bactrian" class="n r" transform="translate(338.3 279.63)"><rect width="31.7" height="4.4"/><text x="15.85" y="3.4">Bactrian</text></g>
<g id="n_sogdian" class="n r" transform="translate(371.7 279.63)"><rect width="31.7" height="4.4"/><text x="15.85" y="3.4">Sogdian</text></g>
<g id="n_caspian" class="n w" transform="translate(438.3 279.63)"><rect width="31.7" height="4.4"/><text x="15.85" y="3.4">CASPIAN</text></g>
<g id="n_khotanese" class="n r" transform="translate(338.3 286)"><rect width="31.7" height="4.4"/><text x="15.85" y="3.4">Khotanese</text></g>
<g id="n_ossetian" class="n g" transform="translate(305 292.38)"><rect width="31.7" height="4.4"/><text x="15.85" y="3.4">Ossetian</text></g>
<g id="n_khwarezmian" class="n r" transform="translate(338.3 292.38)"><rect width="31.7" height="4.4"/><text x="15.85" y="3.4">Khwarezmian</text></g>
<g id="n_yaghnobi" class="n g" transform="translate(371.7 292.38)"><rect width="31.7" height="4.4"/><text x="15.85" y="3.4">Yaghnobi</text></g>
<g id="n_gilaki" class="n g" transform="translate(438.3 292.38)"><rect width="31.7" height="4.4"/><text x="15.85" y="3.4">Gilaki</text></g>
<g id="n_saka" class="n r" transform="translate(305 298.75)"><rect width="31.7" height="4.4"/><text x="15.85" y="3.4">Saka</text></g>
<g id="n_tati" class="n g" transform="translate(438.3 298.75)"><rect width="31.7" height="4.4"/><text x="15.85" y="3.4">Tati</text></g>
<g id="n_sarmatian" class="n r" transform="translate(305 305.13)"><rect width="31.7" height="4.4"/><text x="15.85" y="3.4">Sarmatian</text></g>
<g id="n_oldpersian" class="n r" transform="translate(405 305.13)"><rect width="31.7" height="4.4"/><text x="15.85" y="3.4">Old Persian</text></g>
<g id="n_mazanderani" class="n g" transform="translate(438.3 305.13)"><rect width="31.7" height="4.4"/><text x="15.85" y="3.4">Mazanderani</text></g>
<g id="n_southeir" class="n w" transform="translate(271.7 311.5)"><rect width="31.7" height="4.4"/><text x="15.85" y="3.4">SOUTH</text></g>
<g id="n_shahmirzadi" class="n r" transform="translate(438.3 311.5)"><rect width="31.7" height="4.4"/><text x="15.85" y="3.4">Shahmirzadi</text></g>
<g id="n_alanic" class="n r" transform="translate(338.3 317.88)"><rect width="31.7" height="4.4"/><text x="15.85" y="3.4">Alanic</text></g>
<g id="n_middlepersian" class="n r" transform="translate(371.7 317.88)"><rect width="31.7" height="4.4"/><text x="15.85" y="3.4">Middle Persian</text></g>
<g id="n_luri" class="n g" transform="translate(405 317.88)"><rect width="31.7" height="4.4"/><text x="15.85" y="3.4">Luri</text></g>
<g id="n_talysh" class="n g" transform="translate(438.3 317.88)"><rect width="31.7" height="4.4"/><text x="15.85" y="3.4">Talysh</text></g>
<g id="n_parachi" class="n r" transform="translate(271.7 324.25)"><rect width="31.7" height="4.4"/><text x="15.85" y="3.4">Parachi</text></g>
<g id="n_pashto" class="n g" transform="translate(305 324.25)"><rect width="31.7" height="4.4"/><text x="15.85" y="3.4">Pashto</text></g>
<g id="n_median" class="n r" transform="translate(471.7 324.25)"><rect width="31.7" height="4.4"/><text x="15.85" y="3.4">Median</text></g>
<g id="n_bukhori" class="n g" transform="translate(371.7 330.63)"><rect width="31.7" height="4.4"/><text x="15.85" y="3.4">Bukhori</text></g>
<g id="n_bakhtiari" class="n g" transform="translate(405 330.63)"><rect width="31.7" height="4.4"/><text x="15.85" y="3.4">Bakhtiari</text></g>
<g id="n_ormuri" class="n g" transform="translate(271.7 337)"><rect width="31.7" height="4.4"/><text x="15.85" y="3.4">Ormuri</text></g>
<g id="n_wakhi" class="n g" transform="translate(338.3 337)"><rect width="31.7" height="4.4"/><text x="15.85" y="3.4">Wakhi</text></g>
<g id="n_dari" class="n g" transform="translate(371.7 337)"><rect width="31.7" height="4.4"/><text x="15.85" y="3.4">Dari</text></g>
<g id="n_kumzari" class="n g" transform="translate(405 337)"><rect width="31.7" height="4.4"/><text x="15.85" y="3.4">Kumzari</text></g>
<g id="n_parthian" class="n r" transform="translate(438.3 337)"><rect width="31.7" height="4.4"/><text x="15.85" y="3.4">Parthian</text></g>
<g id="n_zazagorani" class="n r" transform="translate(471.7 337)"><rect width="31.7" height="4.4"/><text x="15.85" y="3.4">Zaza-Gorani</text></g>
<g id="n_wanetsi" class="n r" transform="translate(271.7 343.38)"><rect width="31.7" height="4.4"/><text x="15.85" y="3.4">Wanetsi</text></g>
<g id="n_persian" class="n g" transform="translate(371.7 343.38)"><rect width="31.7" height="4.4"/><text x="15.85" y="3.4">Persian</text></g>
<g id="n_munji" class="n g" transform="translate(271.7 349.75)"><rect width="31.7" height="4.4"/><text x="15.85" y="3.4">Munji</text></g>
<g id="n_tat" class="n g" transform="translate(371.7 349.75)"><rect width="31.7" height="4.4"/><text x="15.85" y="3.4">Tat</text></g>
<g id="n_balochi" class="n g" transform="translate(438.3 349.75)"><rect width="31.7" height="4.4"/><text x="15.85" y="3.4">Balochi</text></g>
<g id="n_gorani" class="n g" transform="translate(471.7 349.75)"><rect width="31.7" height="4.4"/><text x="15.85" y="3.4">Gorani</text></g>
<g id="n_hazaragi" class="n g" transform="translate(338.3 356.13)"><rect width="31.7" height="4.4"/><text x="15.85" y="3.4">Hazaragi</text></g>
<g id="n_kurdish" class="n g" transform="translate(438.3 356.13)"><rect width="31.7" height="4.4"/><text x="15.85" y="3.4">Kurdish</text></g>
<g id="n_zazaki" class="n g" transform="translate(471.7 356.13)"><rect width="31.7" height="4.4"/><text x="15.85" y="3.4">Zazaki</text></g>
<g id="n_armenian_grp" class="n w" transform="translate(271.7 362.5)"><rect width="31.7" height="4.4"/><text x="15.85" y="3.4">ARMENIAN</text></g>
<g id="n_tajik" class="n g" transform="translate(338.3 362.5)"><rect width="31.7" height="4.4"/><text x="15.85" y="3.4">Tajik</text></g>
<g id="n_juhuri" class="n g" transform="translate(405 362.5)"><rect width="31.7" height="4.4"/><text x="15.85" y="3.4">Juhuri</text></g>
<g id="n_armenian" class="n g" transform="translate(271.7 375.25)"><rect width="31.7" height="4.4"/><text x="15.85" y="3.4">Armenian</text></g>
<g id="n_baltoslavic" class="n w" transform="translate(336.7 388)"><rect width="35" height="4.4"/><text x="17.5" y="3.4">BALTO-SLAVIC</text></g>
<g id="n_baltic" class="n w" transform="translate(305 400.75)"><rect width="31.7" height="4.4"/><text x="15.85" y="3.4">BALTIC</text></g>
<g id="n_slavic" class="n w" transform="translate(371.7 400.75)"><rect width="31.7" height="4.4"/><text x="15.85" y="3.4">SLAVIC</text></g>
<g id="n_westbalt" class="n w" transform="translate(271.7 413.5)"><rect width="31.7" height="4.4"/><text x="15.85" y="3.4">WEST</text></g>
<g id="n_eastbalt" class="n w" transform="translate(305 413.5)"><rect width="31.7" height="4.4"/><text x="15.85" y="3.4">EAST</text></g>
<g id="n_eastslav" class="n w" transform="translate(438.3 413.5)"><rect width="31.7" height="4.4"/><text x="15.85" y="3.4">EAST</text></g>
<g id="n_galindian" class="n r" transform="translate(271.7 426.25)"><rect width="31.7" height="4.4"/><text x="15.85" y="3.4">Galindian</text></g>
<g id="n_latvian" class="n g" transform="translate(305 426.25)"><rect width="31.7" height="4.4"/><text x="15.85" y="3.4">Latvian</text></g>
<g id="n_oldnovgorod" class="n r" transform="translate(405 426.25)"><rect width="31.7" height="4.4"/><text x="15.85" y="3.4">Old Novgorod</text></g>
<g id="n_oldeastslavic" class="n r" transform="translate(438.3 426.25)"><rect width="31.7" height="4.4"/><text x="15.85" y="3.4">Old East Slavic</text></g>
<g id="n_oldprussian" class="n r" transform="translate(271.7 432.63)"><rect width="31.7" height="4.4"/><text x="15.85" y="3.4">Old Prussian</text></g>
<g id="n_lithuanian" class="n g" transform="translate(305 432.63)"><rect width="31.7" height="4.4"/><text x="15.85" y="3.4">Lithuanian</text></g>
<g id="n_sudovian" class="n r" transform="translate(271.7 439)"><rect width="31.7" height="4.4"/><text x="15.85" y="3.4">Sudovian</text></g>
<g id="n_selonian" class="n r" transform="translate(305 439)"><rect width="31.7" height="4.4"/><text x="15.85" y="3.4">Selonian</text></g>
<g id="n_russian" class="n g" transform="translate(438.3 439)"><rect width="31.7" height="4.4"/><text x="15.85" y="3.4">Russian</text></g>
<g id="n_ruthenian" class="n r" transform="translate(471.7 439)"><rect width="31.7" height="4.4"/><text x="15.85" y="3.4">Ruthenian</text></g>
<g id="n_semigallian" class="n r" transform="translate(305 445.38)"><rect width="31.7" height="4.4"/><text x="15.85" y="3.4">Semigallian</text></g>
<g id="n_southslav" class="n w" transform="translate(371.7 445.38)"><rect width="31.7" height="4.4"/><text x="15.85" y="3.4">SOUTH</text></g>
<g id="n_albanian_grp" class="n w" transform="translate(271.7 451.75)"><rect width="31.7" height="4.4"/><text x="15.85" y="3.4">ALBANIAN</text></g>
<g id="n_belarusian" class="n g" transform="translate(471.7 451.75)"><rect width="31.7" height="4.4"/><text x="15.85" y="3.4">Belarusian</text></g>
<g id="n_oldwestslavic" class="n r" transform="translate(338.3 458.13)"><rect width="31.7" height="4.4"/><text x="15.85" y="3.4">Old West Slavic</text></g>
<g id="n_westernslav" class="n w" transform="translate(371.7 458.13)"><rect width="31.7" height="4.4"/><text x="15.85" y="3.4">WESTERN</text></g>
<g id="n_rusyn" class="n g" transform="translate(471.7 458.13)"><rect width="31.7" height="4.4"/><text x="15.85" y="3.4">Rusyn</text></g>
<g id="n_albanian" class="n g" transform="translate(271.7 464.5)"><rect width="31.7" height="4.4"/><text x="15.85" y="3.4">Albanian</text></g>
<g id="n_easternslav" class="n w" transform="translate(438.3 464.5)"><rect width="31.7" height="4.4"/><text x="15.85" y="3.4">EASTERN</text></g>
<g id="n_ukrainian" class="n g" transform="translate(471.7 464.5)"><rect width="31.7" height="4.4"/><text x="15.85" y="3.4">Ukrainian</text></g>
<g id="n_lechitic" class="n w" transform="translate(305 470.88)"><rect width="31.7" height="4.4"/><text x="15.85" y="3.4">LECHITIC</text></g>
<g id="n_slovene" class="n g" transform="translate(371.7 470.88)"><rect width="31.7" height="4.4"/><text x="15.85" y="3.4">Slovene</text></g>
<g id="n_czechslovak" class="n r" transform="translate(338.3 477.25)"><rect width="31.7" height="4.4"/><text x="15.85" y="3.4">Czech-Slovak</text></g>
<g id="n_ocs" class="n r" transform="translate(435 477.25)"><rect width="40" height="4.4"/><text x="20" y="3.4">Old Church Slavonic</text></g>
<g id="n_oldpolish" class="n r" transform="translate(305 483.63)"><rect width="31.7" height="4.4"/><text x="15.85" y="3.4">Old Polish</text></g>
<g id="n_knaanic" class="n r" transform="translate(338.3 483.63)"><rect width="31.7" height="4.4"/><text x="15.85" y="3.4">Knaanic</text></g>
<g id="n_serbocroatian" class="n g" transform="translate(405 483.63)"><rect width="31.7" height="4.4"/><text x="15.85" y="3.4">Serbo-Croatian</text></g>
<g id="n_polabian" class="n r" transform="translate(305 490)"><rect width="31.7" height="4.4"/><text x="15.85" y="3.4">Polabian</text></g>
<g id="n_sorbian" class="n g" transform="translate(338.3 490)"><rect width="31.7" height="4.4"/><text x="15.85" y="3.4">Sorbian</text></g>
<g id="n_czech" class="n g" transform="translate(371.7 490)"><rect width="31.7" height="4.4"/><text x="15.85" y="3.4">Czech</text></g>
<g id="n_bulgarian" class="n g" transform="translate(471.7 490)"><rect width="31.7" height="4.4"/><text x="15.85" y="3.4">Bulgarian</text></g>
<g id="n_polish" class="n g" transform="translate(271.7 496.38)"><rect width="31.7" height="4.4"/><text x="15.85" y="3.4">Polish</text></g>
<g id="n_pomeranian" class="n r" transform="translate(305 496.38)"><rect width="31.7" height="4.4"/><text x="15.85" y="3.4">Pomeranian</text></g>
<g id="n_slovak" class="n g" transform="translate(371.7 496.38)"><rect width="31.7" height="4.4"/><text x="15.85" y="3.4">Slovak</text></g>
<g id="n_bosnian" class="n g" transform="translate(405 496.38)"><rect width="31.7" height="4.4"/><text x="15.85" y="3.4">Bosnian</text></g>
<g id="n_churchslavonic" class="n g" transform="translate(471.7 496.38)"><rect width="31.7" height="4.4"/><text x="15.85" y="3.4">Church Slavonic</text></g>
<g id="n_silesian" class="n g" transform="translate(271.7 502.75)"><rect width="31.7" height="4.4"/><text x="15.85" y="3.4">Silesian</text></g>
<g id="n_croatian" class="n g" transform="translate(405 502.75)"><rect width="31.7" height="4.4"/><text x="15.85" y="3.4">Croatian</text></g>
<g id="n_macedonian" class="n g" transform="translate(471.7 502.75)"><rect width="31.7" height="4.4"/><text x="15.85" y="3.4">Macedonian</text></g>
<g id="n_kashubian" class="n g" transform="translate(338.3 509.13)"><rect width="31.7" height="4.4"/><text x="15.85" y="3.4">Kashubian</text></g>
<g id="n_serbian" class="n g" transform="translate(405 509.13)"><rect width="31.7" height="4.4"/><text x="15.85" y="3.4">Serbian</text></g>
<text class="cap" x="268.5" y="547">Indo-European language family tree</text>
</svg>
